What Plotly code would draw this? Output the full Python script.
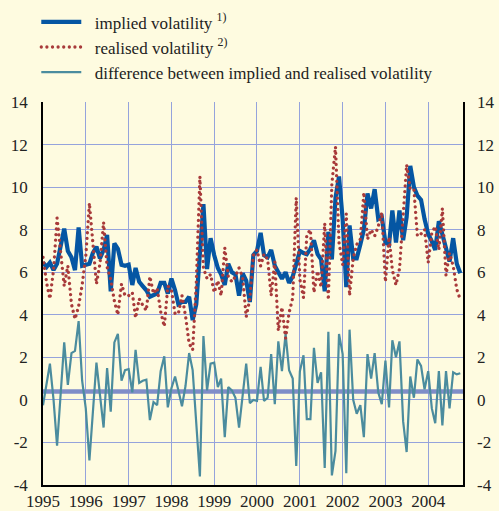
import pandas as pd
import plotly.graph_objects as go

months = pd.date_range("1995-01-01", periods=118, freq="MS")

implied = [6.45, 6.25, 6.45, 6.1, 6.4, 7.2, 8.05, 7.0, 6.7, 6.1, 8.1, 6.3,
           6.35, 6.4, 6.9, 7.2, 6.65, 7.05, 7.75, 5.1, 7.35, 7.1, 6.35, 6.3,
           6.35, 5.4, 6.2, 5.55, 5.35, 5.15, 4.85, 4.9, 5.0, 5.5, 5.5, 5.0,
           5.7, 5.15, 4.5, 4.6, 4.6, 4.85, 3.75, 4.5, 6.9, 9.2, 6.15, 7.6,
           6.8, 6.2, 5.9, 5.4, 6.4, 6.0, 5.9, 4.9, 5.95, 5.6, 4.6, 6.8,
           7.0, 7.85, 6.8, 6.7, 7.05, 6.3, 6.0, 5.7, 6.0, 5.5, 5.8, 6.4,
           7.0, 6.9, 6.85, 7.1, 7.5, 6.85, 6.6, 5.1, 7.9, 6.6, 9.5, 10.5,
           8.5, 5.3, 8.2, 6.65, 6.65, 7.3, 8.0, 9.7, 9.0, 9.9, 8.5, 8.6,
           7.4, 7.3, 8.9, 7.4, 8.9, 7.5, 8.6, 11.0, 10.0, 9.6, 9.4, 8.5,
           7.8, 7.45, 7.05, 8.4, 7.8, 7.2, 6.5, 7.6, 6.4, 5.95]

realised = [6.7, 5.5, 4.75, 6.1, 8.55, 6.9, 5.35, 6.3, 4.5, 3.8, 4.4, 5.4,
            6.75, 9.25, 7.4, 5.45, 6.4, 8.35, 6.25, 5.65, 4.65, 4.0, 5.45, 4.9,
            4.9, 5.05, 3.85, 4.75, 4.45, 4.2, 5.8, 5.0, 5.25, 4.15, 3.45, 5.35,
            5.15, 4.05, 4.05, 4.9, 3.95, 2.65, 2.35, 5.5, 10.5, 6.2, 5.7, 5.9,
            5.05, 5.6, 4.9, 7.15, 5.8, 5.55, 5.8, 6.2, 5.75, 3.9, 4.75, 6.8,
            7.05, 6.3, 6.85, 6.6, 4.9, 6.5, 3.25, 4.35, 2.9, 4.1, 4.8, 9.5,
            5.65, 4.8, 7.75, 8.0, 5.05, 6.05, 5.3, 8.3, 4.7, 10.15, 11.9, 7.4,
            6.35, 8.75, 4.9, 6.65, 7.3, 7.55, 9.75, 7.55, 8.0, 7.7, 8.15, 8.8,
            5.55, 7.65, 6.1, 5.4, 6.15, 8.5, 11.05, 9.9, 9.9, 7.7, 7.8, 8.0,
            6.45, 7.85, 8.15, 7.05, 9.0, 5.85, 6.9, 6.3, 5.2, 4.7]

difference = [-0.25, 0.75, 1.7, 0.0, -2.15, 0.3, 2.7, 0.7, 2.2, 2.3, 3.7, 0.9,
              -0.4, -2.85, -0.5, 1.75, 0.25, -1.3, 1.5, -0.55, 2.7, 3.1, 0.9, 1.4,
              1.45, 0.35, 2.35, 0.8, 0.9, 0.95, -0.95, -0.1, -0.25, 1.35, 2.05, -0.35,
              0.55, 1.1, 0.45, -0.3, 0.65, 2.2, 1.4, -1.0, -3.6, 3.0, 0.45, 1.7,
              1.75, 0.6, 1.0, -1.75, 0.6, 0.45, 0.1, -1.3, 0.2, 1.7, -0.15, 0.0,
              -0.05, 1.55, -0.05, 0.1, 2.15, -0.2, 2.75, 1.35, 3.1, 1.4, 1.0, -3.1,
              1.35, 2.1, -0.9, -0.9, 2.45, 0.8, 1.3, -3.2, 3.2, -3.55, -2.4, 3.1,
              2.15, -3.45, 3.3, 0.0, -0.65, -0.25, -1.75, 2.15, 1.0, 2.2, 0.35, -0.2,
              1.85, -0.35, 2.8, 2.0, 2.75, -1.0, -2.45, 1.1, 0.1, 1.9, 1.6, 0.5,
              1.35, -0.4, -1.1, 1.35, -1.2, 1.35, -0.4, 1.3, 1.2, 1.25]

mean_difference = 0.4

year_ticks = [f"{y}-01-01" for y in range(1995, 2005)]
year_labels = [str(y) for y in range(1995, 2005)]
y_ticks = list(range(-4, 15, 2))
y_labels = [str(v) for v in y_ticks]

legend_names = ["implied volatility <sup>1)</sup>",
                "realised volatility <sup>2)</sup>",
                "difference between implied and realised volatility"]

x_start, x_end = "1995-01-01", "2004-10-24"

BG = "#fefbe0"
GRID = "#95a3dc"
FONT = '"Liberation Serif", "Times New Roman", Tinos, serif'
TXT = "#222222"
PAD = "\u00a0\u00a0"

fig = go.Figure()

fig.add_trace(go.Scatter(
    x=[x_start, x_end], y=[mean_difference, mean_difference],
    mode="lines", line=dict(color="#7f8dc8", width=4.5),
    showlegend=False, hoverinfo="skip"))

fig.add_trace(go.Scatter(
    x=months, y=difference, mode="lines", name=PAD + legend_names[2],
    legendrank=3, line=dict(color="#4b8c9e", width=2.2)))

fig.add_trace(go.Scatter(
    x=months, y=implied, mode="lines", name=PAD + legend_names[0],
    legendrank=1, line=dict(color="#0556a3", width=4.2)))

fig.add_trace(go.Scatter(
    x=months, y=realised, mode="lines", name=PAD + legend_names[1],
    legendrank=2, line=dict(color="#a83a3a", width=3.3, dash="2px,3.6px")))

fig.add_trace(go.Scatter(
    x=[x_start], y=[0], yaxis="y2", mode="markers",
    marker=dict(opacity=0), showlegend=False, hoverinfo="skip"))

fig.update_layout(
    width=499, height=511,
    margin=dict(l=43, r=36, t=102, b=26, autoexpand=False),
    paper_bgcolor=BG, plot_bgcolor=BG,
    font=dict(family=FONT, size=17, color=TXT),
    showlegend=True,
    legend=dict(
        x=-0.016, y=1.255, xanchor="left", yanchor="top",
        bgcolor="rgba(0,0,0,0)", font=dict(family=FONT, size=17, color=TXT),
        traceorder="normal", tracegroupgap=0, itemwidth=40),
    xaxis=dict(
        type="date", range=[x_start, x_end],
        tickvals=year_ticks, ticktext=year_labels,
        showgrid=True, gridcolor=GRID, gridwidth=1,
        showline=True, linecolor="black", linewidth=1.5,
        ticks="", tickfont=dict(family=FONT, size=17, color=TXT),
        zeroline=False, automargin=False),
    yaxis=dict(
        range=[-4, 14], tickvals=y_ticks, ticktext=y_labels,
        showgrid=True, gridcolor=GRID, gridwidth=1,
        showline=True, linecolor="black", linewidth=1.5, mirror=True,
        ticks="", ticklabelstandoff=10,
        tickfont=dict(family=FONT, size=17, color=TXT),
        zeroline=False, automargin=False),
    yaxis2=dict(
        range=[-4, 14], tickvals=y_ticks, ticktext=y_labels,
        overlaying="y", side="right",
        showgrid=False, zeroline=False, showline=False, ticks="",
        ticklabelstandoff=13, automargin=False,
        tickfont=dict(family=FONT, size=17, color=TXT)),
)

post = (
    "document.body.style.margin='0';"
    "document.body.style.background='" + BG + "';"
    "document.querySelectorAll('path.js-line').forEach(function(p){"
    "  var d = p.style.strokeDasharray;"
    "  if (d && d !== 'none' && d !== '') {"
    "    p.style.strokeLinecap = 'round';"
    "    p.style.strokeDasharray = '0.01px,5.6px';"
    "  }"
    "});"
)

fig.write_html("out.html", post_script=post,
               config={"displayModeBar": False})
